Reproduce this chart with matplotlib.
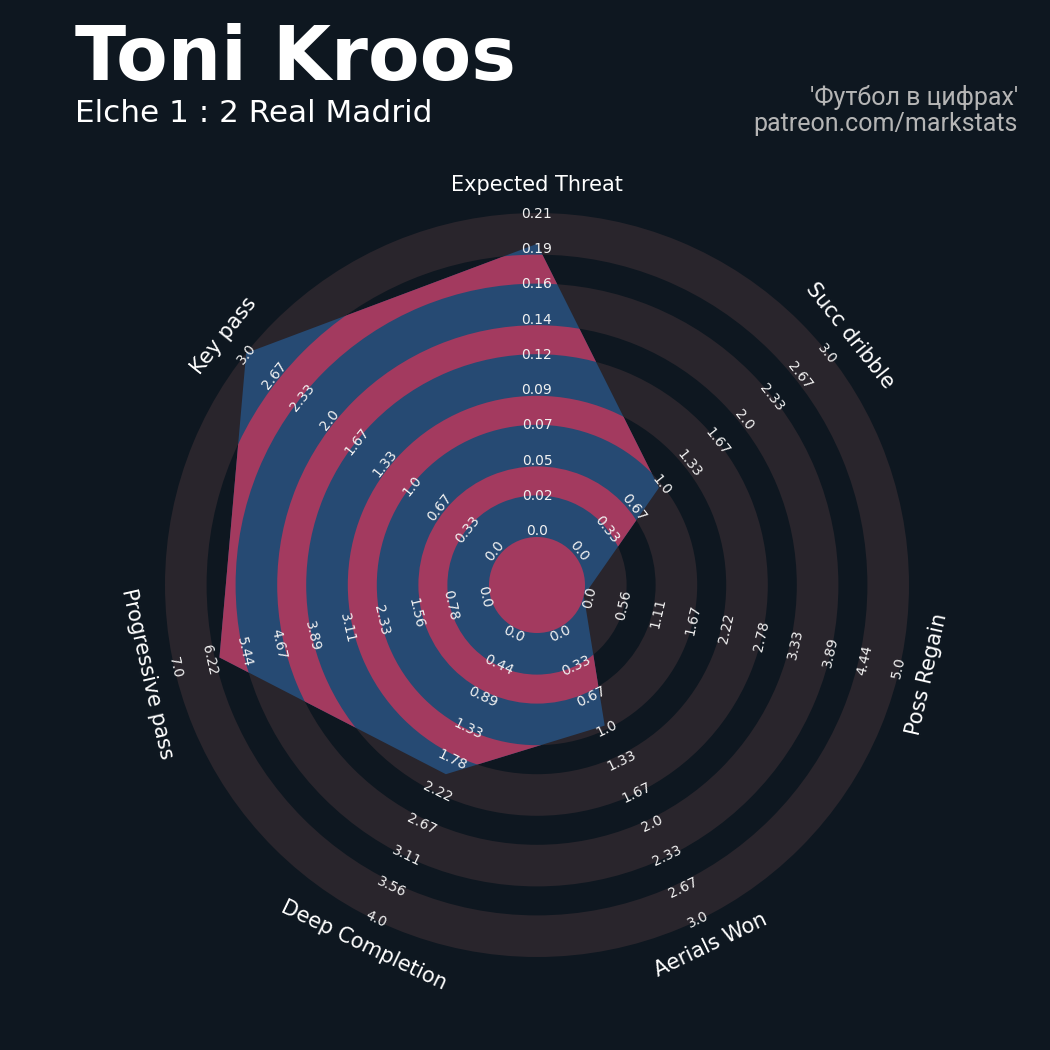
import numpy as np
import matplotlib
matplotlib.use('Agg')
import matplotlib.pyplot as plt
from matplotlib.patches import Circle, Wedge, Polygon

# radar data
params = ['Expected Threat', 'Succ dribble', 'Poss Regain', 'Aerials Won',
          'Deep Completion', 'Progressive pass', 'Key pass']
low = [0, 0, 0, 0, 0, 0, 0]
high = [0.21, 3.0, 5.0, 3.0, 4.0, 7.0, 3.0]
values = [0.19, 1.0, 0.0, 1.0, 2.0, 6.0, 3.0]

title = 'Toni Kroos'
subtitle = 'Elche 1 : 2 Real Madrid'
credit = ["'Футбол в цифрах'", 'patreon.com/markstats']

BG = '#0e1720'
RING = '#29252c'
BLUE = '#264a73'
PINK = '#a33a5f'

fig = plt.figure(figsize=(10.5, 10.5), dpi=100, facecolor=BG)
ax = fig.add_axes([0, 0, 1, 1])
ax.set_facecolor(BG)
# one data unit = one pixel, radar centre at the origin
ax.set_xlim(-537, 513)
ax.set_ylim(-465, 585)
ax.axis('off')

r0 = 48        # centre circle radius
r_max = 372    # outer edge
wd = 29        # dark band width
wg = (r_max - r0 - 4 * wd) / 5
edges = [r0]
for i in range(9):
    edges.append(edges[-1] + (wg if i % 2 == 0 else wd))

# background rings
for i in range(0, 9, 2):
    ax.add_patch(Wedge((0, 0), edges[i + 1], 0, 360, width=edges[i + 1] - edges[i],
                       facecolor=RING, edgecolor='none', zorder=1))

n = len(params)
theta = np.arange(n) * 2 * np.pi / n
rad = [r0 + (v - lo) / (hi - lo) * (r_max - r0) for v, lo, hi in zip(values, low, high)]
xy = np.column_stack([np.array(rad) * np.sin(theta), np.array(rad) * np.cos(theta)])

poly = Polygon(xy, closed=True, facecolor=BLUE, edgecolor='none', zorder=2)
ax.add_patch(poly)

# pink rings inside the radar
pink = [Circle((0, 0), r0, facecolor=PINK, edgecolor='none', zorder=3)]
for i in range(1, 9, 2):
    pink.append(Wedge((0, 0), edges[i + 1], 0, 360, width=edges[i + 1] - edges[i],
                      facecolor=PINK, edgecolor='none', zorder=3))
for p in pink:
    ax.add_patch(p)
    p.set_clip_path(poly)

# range labels and parameter names
label_r = np.linspace(r0 + 6, r_max - 1, 10)
for k in range(n):
    deg = np.degrees(theta[k])
    rot = -deg
    if 90 < deg < 270:
        rot += 180
    s, c = np.sin(theta[k]), np.cos(theta[k])
    ticks = np.linspace(low[k], high[k], 10)
    for r, t in zip(label_r, ticks):
        ax.text(r * s, r * c, str(round(float(t), 2)), ha='center', va='center',
                rotation=rot, rotation_mode='anchor', fontsize=10, color='#f2f2f2', zorder=5)
    ax.text(400 * s, 400 * c, params[k], ha='center', va='center', rotation=rot,
            rotation_mode='anchor', fontsize=15, color='white', zorder=5)

fig.text(75 / 1050, 1 - 80 / 1050, title, fontsize=54, fontweight='bold',
         color='white', va='baseline')
fig.text(75 / 1050, 1 - 122 / 1050, subtitle, fontsize=22.4, color='white', va='baseline')
fig.text(1018 / 1050, 1 - 105 / 1050, credit[0], family='Roboto', fontsize=18,
         color='#b5b5b5', ha='right', va='baseline')
fig.text(1018 / 1050, 1 - 131 / 1050, credit[1], family='Roboto', fontsize=18,
         color='#b5b5b5', ha='right', va='baseline')

fig.savefig('out.png', dpi=100, facecolor=BG)
